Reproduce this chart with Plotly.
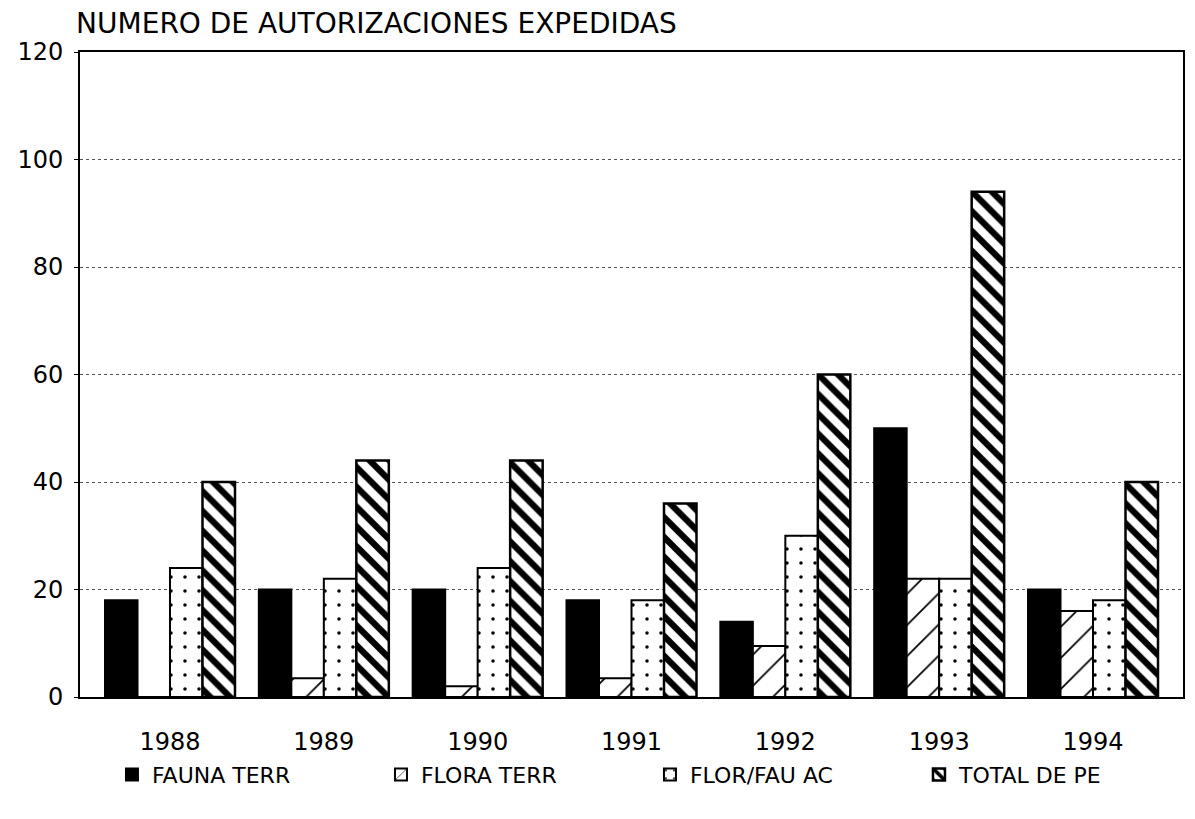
import plotly.graph_objects as go

years = ["1988", "1989", "1990", "1991", "1992", "1993", "1994"]
fauna_terr = [18, 20, 20, 18, 14, 50, 20]
flora_terr = [0, 3.5, 2, 3.5, 9.5, 22, 16]
flor_fau_ac = [24, 22, 24, 18, 30, 22, 18]
total_pe = [40, 44, 44, 36, 60, 94, 40]

font_family = "DejaVu Sans, Liberation Sans, sans-serif"

fig = go.Figure()
fig.add_trace(go.Bar(
    x=years, y=fauna_terr, name="FAUNA TERR",
    marker=dict(color="black", line=dict(color="black", width=2)),
))
fig.add_trace(go.Bar(
    x=years, y=flora_terr, name="FLORA TERR",
    marker=dict(color="white", line=dict(color="black", width=2),
                pattern=dict(shape="/", fgcolor="black", bgcolor="white", fgopacity=1,
                             size=22, solidity=0.08)),
))
fig.add_trace(go.Bar(
    x=years, y=flor_fau_ac, name="FLOR/FAU AC",
    marker=dict(color="white", line=dict(color="black", width=2),
                pattern=dict(shape=".", fgcolor="black", bgcolor="white", fgopacity=1,
                             size=14, solidity=0.05)),
))
fig.add_trace(go.Bar(
    x=years, y=total_pe, name="TOTAL DE PE",
    marker=dict(color="white", line=dict(color="black", width=2.5),
                pattern=dict(shape="\\", fgcolor="black", bgcolor="white", fgopacity=1,
                             size=14, solidity=0.45)),
))

fig.update_layout(
    width=1195, height=819,
    paper_bgcolor="white", plot_bgcolor="white",
    barmode="group", bargap=0.155, bargroupgap=0,
    margin=dict(l=72, r=20, t=44, b=130, autoexpand=False),
    font=dict(family=font_family, size=23, color="black"),
    title=dict(text="NUMERO DE AUTORIZACIONES EXPEDIDAS", xref="container", x=0.057,
               xanchor="left", yref="container", y=0.982, yanchor="middle",
               font=dict(size=28, family=font_family)),
    showlegend=True,
    legend=dict(orientation="h", xref="container", x=0.087, xanchor="left",
                yref="container", y=0.064, yanchor="middle",
                bgcolor="rgba(0,0,0,0)",
                font=dict(size=22), itemwidth=30, entrywidth=224, entrywidthmode="pixels",
                traceorder="normal"),
    xaxis=dict(showline=True, linecolor="black", linewidth=2, mirror=True,
               range=[-0.585, 6.585],
               ticks="", tickfont=dict(size=24), ticklabelstandoff=22),
    yaxis=dict(range=[0, 120], dtick=20, showline=True, linecolor="black", linewidth=2,
               mirror=True, showgrid=True, gridcolor="#555", griddash="dot", gridwidth=1,
               ticks="outside", ticklen=4, tickcolor="black", ticklabelstandoff=6,
               tickfont=dict(size=24), zeroline=False),
)

fig.write_html("out.html")
